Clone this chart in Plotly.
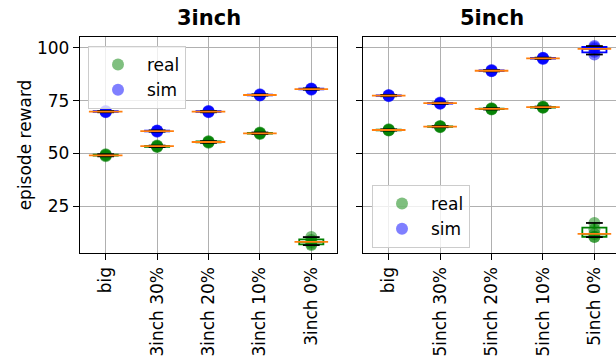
import numpy as np
import plotly.graph_objects as go

categories_3 = ["big", "3inch 30%", "3inch 20%", "3inch 10%", "3inch 0%"]
categories_5 = ["big", "5inch 30%", "5inch 20%", "5inch 10%", "5inch 0%"]

real_3 = [
    [48.6, 49.0, 49.1, 49.3, 49.6],
    [53.0, 53.2, 53.4, 53.5, 53.7],
    [55.0, 55.3, 55.4, 55.6, 55.8],
    [59.2, 59.4, 59.5, 59.7, 59.9],
    [6.5, 7.0, 8.0, 8.9, 10.3],
]
sim_3 = [
    [69.5, 69.7, 69.8, 70.0, 70.1],
    [60.3, 60.5, 60.6, 60.7, 60.9],
    [69.5, 69.7, 69.8, 70.0, 70.1],
    [77.4, 77.6, 77.7, 77.8, 78.0],
    [80.2, 80.4, 80.5, 80.6, 80.8],
]
real_5 = [
    [60.8, 61.0, 61.1, 61.2, 61.4],
    [62.4, 62.6, 62.7, 62.8, 63.0],
    [70.8, 71.0, 71.1, 71.2, 71.4],
    [71.6, 71.8, 71.9, 72.0, 72.2],
    [10.3, 10.5, 11.8, 14.0, 17.0],
]
sim_5 = [
    [77.1, 77.3, 77.4, 77.5, 77.7],
    [73.5, 73.7, 73.8, 73.9, 74.1],
    [88.9, 89.1, 89.2, 89.3, 89.5],
    [94.8, 95.0, 95.1, 95.2, 95.4],
    [96.9, 98.2, 99.6, 100.3, 100.9],
]

y_ticks = [25, 50, 75, 100]
titles = ["3inch", "5inch"]

GREEN = "green"
BLUE = "blue"
FONT = "DejaVu Sans"

fig = go.Figure()


def whisker_ends(vals):
    v = np.sort(np.array(vals))
    q1, q3 = np.percentile(v, [25, 75])
    iqr = q3 - q1
    lo = v[v >= q1 - 1.5 * iqr].min()
    hi = v[v <= q3 + 1.5 * iqr].max()
    return lo, hi


def add_panel(cats, real, sim, xa, ya, legend_name):
    for name, data, col in [("real", real, GREEN), ("sim", sim, BLUE)]:
        xs, ys = [], []
        for c, vals in zip(cats, data):
            xs += [c] * len(vals)
            ys += list(vals)
        fig.add_trace(go.Scatter(
            x=xs, y=ys, mode="markers", name=name,
            marker=dict(color=col, size=12, opacity=0.5, line=dict(width=0)),
            xaxis=xa, yaxis=ya, legend=legend_name, legendgroup=legend_name + name,
            showlegend=True,
        ))
    for name, data, col in [("real", real, GREEN), ("sim", sim, BLUE)]:
        xs, ys = [], []
        for c, vals in zip(cats, data):
            xs += [c] * len(vals)
            ys += list(vals)
        fig.add_trace(go.Box(
            x=xs, y=ys, boxpoints=False, width=0.47, whiskerwidth=0,
            line=dict(color=col, width=1.8), fillcolor="rgba(0,0,0,0)",
            xaxis=xa, yaxis=ya, showlegend=False, hoverinfo="skip",
        ))
        caps_x, caps_y = [], []
        for c, vals in zip(cats, data):
            lo, hi = whisker_ends(vals)
            caps_x += [c, c]
            caps_y += [lo, hi]
        fig.add_trace(go.Scatter(
            x=caps_x, y=caps_y, mode="markers",
            marker=dict(symbol="line-ew", size=12, line=dict(color="black", width=1.8)),
            xaxis=xa, yaxis=ya, showlegend=False, hoverinfo="skip",
        ))
        med_x = list(cats)
        med_y = [float(np.median(v)) for v in data]
        fig.add_trace(go.Scatter(
            x=med_x, y=med_y, mode="markers",
            marker=dict(symbol="line-ew", size=24, line=dict(color="#ff7f0e", width=1.8)),
            xaxis=xa, yaxis=ya, showlegend=False, hoverinfo="skip",
        ))


add_panel(categories_3, real_3, sim_3, "x", "y", "legend")
add_panel(categories_5, real_5, sim_5, "x2", "y2", "legend2")

W, H = 616, 364
yrange = [2.75, 105.2]

axis_common = dict(
    showline=True, linecolor="black", linewidth=1.4, mirror=True,
    ticks="outside", ticklen=6, tickwidth=1.4, tickcolor="black",
    showgrid=True, gridcolor="#b0b0b0", gridwidth=1.2,
    zeroline=False, automargin=False,
    tickfont=dict(family=FONT, size=17, color="black"),
)

legend_common = dict(
    bgcolor="rgba(255,255,255,0.8)", bordercolor="#cccccc", borderwidth=1,
    font=dict(family=FONT, size=17, color="black"),
    xanchor="left", yanchor="top", tracegroupgap=0, itemsizing="trace",
    itemwidth=48,
)

fig.update_layout(
    template="none",
    width=W, height=H,
    margin=dict(l=0, r=0, t=37, b=111, autoexpand=False),
    plot_bgcolor="white", paper_bgcolor="white",
    boxmode="overlay",
    font=dict(family=FONT, size=17, color="black"),
    xaxis=dict(domain=[80 / W, 337 / W], type="category", range=[-0.5, 4.5],
               tickangle=-90, categoryorder="array", categoryarray=categories_3,
               anchor="y", **axis_common),
    xaxis2=dict(domain=[363 / W, 1.0], type="category", range=[-0.5, 4.42],
                tickangle=-90, categoryorder="array", categoryarray=categories_5,
                anchor="y2", **axis_common),
    yaxis=dict(range=yrange, tickvals=y_ticks, anchor="x",
               title=dict(text="episode reward", font=dict(family=FONT, size=17), standoff=0),
               **axis_common),
    yaxis2=dict(range=yrange, tickvals=y_ticks, anchor="x2", matches="y",
                showticklabels=False, **axis_common),
    legend=dict(x=88 / W, y=(253 - 46) / 216, **legend_common),
    legend2=dict(x=372 / W, y=(253 - 185) / 216, **legend_common),
    annotations=[
        dict(text="<b>%s</b>" % titles[0], x=(80 + 337) / 2 / W, y=1, xref="paper", yref="paper",
             xanchor="center", yanchor="bottom", yshift=5, showarrow=False,
             font=dict(family=FONT, size=21, color="black")),
        dict(text="<b>%s</b>" % titles[1], x=(363 + 620) / 2 / W, y=1, xref="paper", yref="paper",
             xanchor="center", yanchor="bottom", yshift=5, showarrow=False,
             font=dict(family=FONT, size=21, color="black")),
    ],
)

fig.write_html(
    "out.html",
    config={"displayModeBar": False},
    post_script="document.body.style.margin='0';document.body.style.overflow='hidden';",
)
